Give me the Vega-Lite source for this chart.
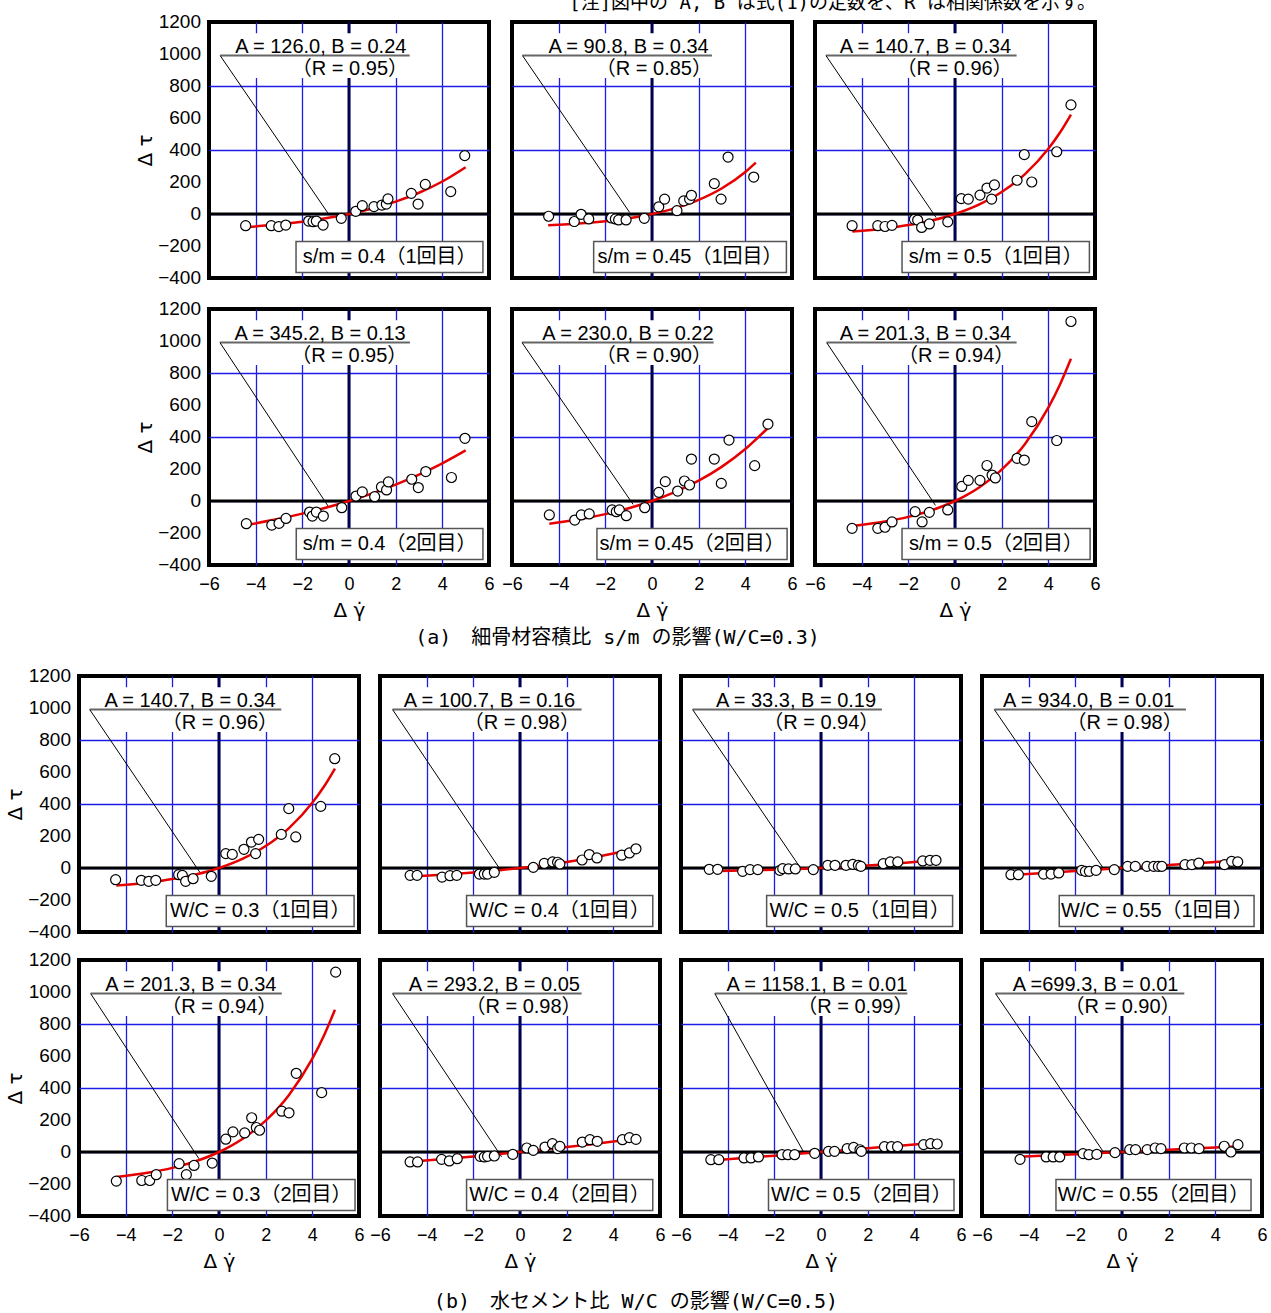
{
"$schema": "https://vega.github.io/schema/vega-lite/v6.json",
"padding": {"left": 5, "top": -7, "right": 0, "bottom": 0},
"title": {"text": "[注]図中の A, B は式(1)の定数を、R は相関係数を示す。", "anchor": "end", "dx": -172, "offset": -2, "fontSize": 19, "font": "DejaVu Sans Mono, Noto Sans CJK JP"},
"spacing": 16,
"center": false,
"datasets": {
"secA": [
{"p":"a1","k":"yl","y":1200,"t":"1200"},{"p":"a1","k":"yl","y":1000,"t":"1000"},{"p":"a1","k":"yl","y":800,"t":"800"},{"p":"a1","k":"yl","y":600,"t":"600"},{"p":"a1","k":"yl","y":400,"t":"400"},{"p":"a1","k":"yl","y":200,"t":"200"},{"p":"a1","k":"yl","y":0,"t":"0"},{"p":"a1","k":"yl","y":-200,"t":"−200"},{"p":"a1","k":"yl","y":-400,"t":"−400"},
{"p":"a4","k":"yl","y":1200,"t":"1200"},{"p":"a4","k":"yl","y":1000,"t":"1000"},{"p":"a4","k":"yl","y":800,"t":"800"},{"p":"a4","k":"yl","y":600,"t":"600"},{"p":"a4","k":"yl","y":400,"t":"400"},{"p":"a4","k":"yl","y":200,"t":"200"},{"p":"a4","k":"yl","y":0,"t":"0"},{"p":"a4","k":"yl","y":-200,"t":"−200"},{"p":"a4","k":"yl","y":-400,"t":"−400"},
{"p":"a1","k":"n","t1":"A = 126.0, B = 0.24","t2":"（R = 0.95）","lab":"s/m = 0.4（1回目）","bx1":-5.52,"bx2":3.15,"ux2":2.6,"tx":2.46,"rx":2.53,"ex":-0.9,"ey":5,"lb1":-2.27,"lb2":5.74,"lc":1.74,"by1":850,"by2":1130,"ly":990,"gy1":-172,"gy2":-365},
{"p":"a2","k":"n","t1":"A = 90.8, B = 0.34","t2":"（R = 0.85）","lab":"s/m = 0.45（1回目）","bx1":-5.55,"bx2":3.15,"ux2":2.57,"tx":2.43,"rx":2.57,"ex":-0.96,"ey":10,"lb1":-2.5,"lb2":5.76,"lc":1.63,"by1":850,"by2":1130,"ly":990,"gy1":-172,"gy2":-365},
{"p":"a3","k":"n","t1":"A = 140.7, B = 0.34","t2":"（R = 0.96）","lab":"s/m = 0.5（1回目）","bx1":-5.53,"bx2":3.15,"ux2":2.64,"tx":2.4,"rx":2.47,"ex":-0.81,"ey":-22,"lb1":-2.27,"lb2":5.76,"lc":1.75,"by1":850,"by2":1130,"ly":990,"gy1":-172,"gy2":-365},
{"p":"a4","k":"n","t1":"A = 345.2, B = 0.13","t2":"（R = 0.95）","lab":"s/m = 0.4（2回目）","bx1":-5.53,"bx2":3.15,"ux2":2.61,"tx":2.43,"rx":2.5,"ex":-0.9,"ey":-31,"lb1":-2.26,"lb2":5.74,"lc":1.74,"by1":850,"by2":1130,"ly":990,"gy1":-172,"gy2":-365},
{"p":"a5","k":"n","t1":"A = 230.0, B = 0.22","t2":"（R = 0.90）","lab":"s/m = 0.45（2回目）","bx1":-5.57,"bx2":3.2,"ux2":2.64,"tx":2.64,"rx":2.57,"ex":-0.81,"ey":-21,"lb1":-2.36,"lb2":5.79,"lc":1.72,"by1":850,"by2":1130,"ly":990,"gy1":-172,"gy2":-365},
{"p":"a6","k":"n","t1":"A = 201.3, B = 0.34","t2":"（R = 0.94）","lab":"s/m = 0.5（2回目）","bx1":-5.5,"bx2":3.15,"ux2":2.64,"tx":2.4,"rx":2.54,"ex":-0.84,"ey":-27,"lb1":-2.27,"lb2":5.79,"lc":1.76,"by1":850,"by2":1130,"ly":990,"gy1":-172,"gy2":-365},
{"p":"a1","k":"f","x":-4.3,"y":-81},{"p":"a1","k":"f","x":-3,"y":-64.7},{"p":"a1","k":"f","x":-2,"y":-48},{"p":"a1","k":"f","x":-1,"y":-26.9},{"p":"a1","k":"f","x":0,"y":0},{"p":"a1","k":"f","x":1,"y":34.2},{"p":"a1","k":"f","x":2,"y":77.6},{"p":"a1","k":"f","x":3,"y":132.9},{"p":"a1","k":"f","x":4,"y":203.1},{"p":"a1","k":"f","x":5,"y":292.3},
{"p":"a2","k":"f","x":-4.45,"y":-70.8},{"p":"a2","k":"f","x":-3,"y":-58.1},{"p":"a2","k":"f","x":-2,"y":-44.8},{"p":"a2","k":"f","x":-1,"y":-26.2},{"p":"a2","k":"f","x":0,"y":0},{"p":"a2","k":"f","x":1,"y":36.8},{"p":"a2","k":"f","x":2,"y":88.4},{"p":"a2","k":"f","x":3,"y":161},{"p":"a2","k":"f","x":4,"y":263},{"p":"a2","k":"f","x":4.45,"y":321.4},
{"p":"a3","k":"f","x":-4.4,"y":-109.2},{"p":"a3","k":"f","x":-3,"y":-90},{"p":"a3","k":"f","x":-2,"y":-69.4},{"p":"a3","k":"f","x":-1,"y":-40.5},{"p":"a3","k":"f","x":0,"y":0},{"p":"a3","k":"f","x":1,"y":57},{"p":"a3","k":"f","x":2,"y":137},{"p":"a3","k":"f","x":3,"y":249.5},{"p":"a3","k":"f","x":4,"y":407.5},{"p":"a3","k":"f","x":4.5,"y":509.1},{"p":"a3","k":"f","x":4.97,"y":621.6},
{"p":"a4","k":"f","x":-4.3,"y":-147.8},{"p":"a4","k":"f","x":-3,"y":-111.5},{"p":"a4","k":"f","x":-2,"y":-79},{"p":"a4","k":"f","x":-1,"y":-42.1},{"p":"a4","k":"f","x":0,"y":0},{"p":"a4","k":"f","x":1,"y":47.9},{"p":"a4","k":"f","x":2,"y":102.5},{"p":"a4","k":"f","x":3,"y":164.7},{"p":"a4","k":"f","x":4,"y":235.4},{"p":"a4","k":"f","x":5,"y":316},
{"p":"a5","k":"f","x":-4.4,"y":-142.6},{"p":"a5","k":"f","x":-3,"y":-111.1},{"p":"a5","k":"f","x":-2,"y":-81.9},{"p":"a5","k":"f","x":-1,"y":-45.4},{"p":"a5","k":"f","x":0,"y":0},{"p":"a5","k":"f","x":1,"y":56.6},{"p":"a5","k":"f","x":2,"y":127.1},{"p":"a5","k":"f","x":3,"y":215},{"p":"a5","k":"f","x":4,"y":324.5},{"p":"a5","k":"f","x":4.97,"y":456.4},
{"p":"a6","k":"f","x":-4.4,"y":-156.2},{"p":"a6","k":"f","x":-3,"y":-128.7},{"p":"a6","k":"f","x":-2,"y":-99.3},{"p":"a6","k":"f","x":-1,"y":-58},{"p":"a6","k":"f","x":0,"y":0},{"p":"a6","k":"f","x":1,"y":81.5},{"p":"a6","k":"f","x":2,"y":196},{"p":"a6","k":"f","x":3,"y":356.9},{"p":"a6","k":"f","x":4,"y":583},{"p":"a6","k":"f","x":4.5,"y":728.3},{"p":"a6","k":"f","x":4.97,"y":889.3},
{"p":"a1","k":"p","x":-4.43,"y":-73},{"p":"a1","k":"p","x":-3.33,"y":-73},{"p":"a1","k":"p","x":-3.01,"y":-79},{"p":"a1","k":"p","x":-2.71,"y":-69},{"p":"a1","k":"p","x":-1.73,"y":-44},{"p":"a1","k":"p","x":-1.54,"y":-48},{"p":"a1","k":"p","x":-1.4,"y":-44},{"p":"a1","k":"p","x":-1.11,"y":-69},{"p":"a1","k":"p","x":-0.33,"y":-27},{"p":"a1","k":"p","x":0.29,"y":17},{"p":"a1","k":"p","x":0.57,"y":52},{"p":"a1","k":"p","x":1.07,"y":46},{"p":"a1","k":"p","x":1.41,"y":56},{"p":"a1","k":"p","x":1.6,"y":62},{"p":"a1","k":"p","x":1.67,"y":94},{"p":"a1","k":"p","x":2.67,"y":129},{"p":"a1","k":"p","x":2.96,"y":62},{"p":"a1","k":"p","x":3.27,"y":185},{"p":"a1","k":"p","x":4.36,"y":140},{"p":"a1","k":"p","x":4.96,"y":365},
{"p":"a2","k":"p","x":-4.43,"y":-14},{"p":"a2","k":"p","x":-3.33,"y":-47},{"p":"a2","k":"p","x":-3.04,"y":-2},{"p":"a2","k":"p","x":-2.71,"y":-31},{"p":"a2","k":"p","x":-1.74,"y":-25},{"p":"a2","k":"p","x":-1.57,"y":-31},{"p":"a2","k":"p","x":-1.43,"y":-37},{"p":"a2","k":"p","x":-1.11,"y":-37},{"p":"a2","k":"p","x":-0.33,"y":-27},{"p":"a2","k":"p","x":0.29,"y":45},{"p":"a2","k":"p","x":0.54,"y":93},{"p":"a2","k":"p","x":1.07,"y":21},{"p":"a2","k":"p","x":1.36,"y":82},{"p":"a2","k":"p","x":1.61,"y":93},{"p":"a2","k":"p","x":1.69,"y":117},{"p":"a2","k":"p","x":2.67,"y":190},{"p":"a2","k":"p","x":2.96,"y":93},{"p":"a2","k":"p","x":3.26,"y":356},{"p":"a2","k":"p","x":4.36,"y":231},
{"p":"a3","k":"p","x":-4.41,"y":-73},{"p":"a3","k":"p","x":-3.31,"y":-73},{"p":"a3","k":"p","x":-3.0,"y":-78},{"p":"a3","k":"p","x":-2.7,"y":-71},{"p":"a3","k":"p","x":-1.74,"y":-33},{"p":"a3","k":"p","x":-1.6,"y":-38},{"p":"a3","k":"p","x":-1.43,"y":-84},{"p":"a3","k":"p","x":-1.1,"y":-62},{"p":"a3","k":"p","x":-0.31,"y":-49},{"p":"a3","k":"p","x":0.27,"y":96},{"p":"a3","k":"p","x":0.57,"y":93},{"p":"a3","k":"p","x":1.07,"y":118},{"p":"a3","k":"p","x":1.37,"y":162},{"p":"a3","k":"p","x":1.57,"y":93},{"p":"a3","k":"p","x":1.69,"y":182},{"p":"a3","k":"p","x":2.66,"y":211},{"p":"a3","k":"p","x":2.97,"y":371},{"p":"a3","k":"p","x":3.29,"y":200},{"p":"a3","k":"p","x":4.36,"y":389},{"p":"a3","k":"p","x":4.97,"y":682},
{"p":"a4","k":"p","x":-4.4,"y":-142},{"p":"a4","k":"p","x":-3.31,"y":-151},{"p":"a4","k":"p","x":-3.0,"y":-140},{"p":"a4","k":"p","x":-2.7,"y":-109},{"p":"a4","k":"p","x":-1.69,"y":-69},{"p":"a4","k":"p","x":-1.57,"y":-94},{"p":"a4","k":"p","x":-1.4,"y":-69},{"p":"a4","k":"p","x":-1.1,"y":-94},{"p":"a4","k":"p","x":-0.31,"y":-42},{"p":"a4","k":"p","x":0.3,"y":31},{"p":"a4","k":"p","x":0.57,"y":57},{"p":"a4","k":"p","x":1.1,"y":27},{"p":"a4","k":"p","x":1.39,"y":88},{"p":"a4","k":"p","x":1.61,"y":69},{"p":"a4","k":"p","x":1.69,"y":119},{"p":"a4","k":"p","x":2.69,"y":136},{"p":"a4","k":"p","x":2.97,"y":84},{"p":"a4","k":"p","x":3.29,"y":184},{"p":"a4","k":"p","x":4.39,"y":147},{"p":"a4","k":"p","x":4.97,"y":392},
{"p":"a5","k":"p","x":-4.4,"y":-87},{"p":"a5","k":"p","x":-3.31,"y":-119},{"p":"a5","k":"p","x":-3.03,"y":-87},{"p":"a5","k":"p","x":-2.69,"y":-81},{"p":"a5","k":"p","x":-1.71,"y":-56},{"p":"a5","k":"p","x":-1.53,"y":-67},{"p":"a5","k":"p","x":-1.4,"y":-56},{"p":"a5","k":"p","x":-1.1,"y":-92},{"p":"a5","k":"p","x":-0.31,"y":-42},{"p":"a5","k":"p","x":0.29,"y":54},{"p":"a5","k":"p","x":0.57,"y":121},{"p":"a5","k":"p","x":1.1,"y":62},{"p":"a5","k":"p","x":1.39,"y":125},{"p":"a5","k":"p","x":1.61,"y":100},{"p":"a5","k":"p","x":1.69,"y":262},{"p":"a5","k":"p","x":2.67,"y":262},{"p":"a5","k":"p","x":2.97,"y":110},{"p":"a5","k":"p","x":3.3,"y":381},{"p":"a5","k":"p","x":4.4,"y":221},{"p":"a5","k":"p","x":4.97,"y":481},
{"p":"a6","k":"p","x":-4.41,"y":-171},{"p":"a6","k":"p","x":-3.31,"y":-171},{"p":"a6","k":"p","x":-3.0,"y":-164},{"p":"a6","k":"p","x":-2.7,"y":-131},{"p":"a6","k":"p","x":-1.71,"y":-67},{"p":"a6","k":"p","x":-1.41,"y":-131},{"p":"a6","k":"p","x":-1.1,"y":-71},{"p":"a6","k":"p","x":-0.31,"y":-56},{"p":"a6","k":"p","x":0.29,"y":91},{"p":"a6","k":"p","x":0.57,"y":129},{"p":"a6","k":"p","x":1.07,"y":129},{"p":"a6","k":"p","x":1.37,"y":222},{"p":"a6","k":"p","x":1.59,"y":162},{"p":"a6","k":"p","x":1.73,"y":144},{"p":"a6","k":"p","x":2.66,"y":267},{"p":"a6","k":"p","x":2.97,"y":256},{"p":"a6","k":"p","x":3.29,"y":496},{"p":"a6","k":"p","x":4.36,"y":378},{"p":"a6","k":"p","x":4.97,"y":1122}
],
"secB": [
{"p":"b1","k":"yl","y":1200,"t":"1200"},{"p":"b1","k":"yl","y":1000,"t":"1000"},{"p":"b1","k":"yl","y":800,"t":"800"},{"p":"b1","k":"yl","y":600,"t":"600"},{"p":"b1","k":"yl","y":400,"t":"400"},{"p":"b1","k":"yl","y":200,"t":"200"},{"p":"b1","k":"yl","y":0,"t":"0"},{"p":"b1","k":"yl","y":-200,"t":"−200"},{"p":"b1","k":"yl","y":-400,"t":"−400"},
{"p":"b5","k":"yl","y":1200,"t":"1200"},{"p":"b5","k":"yl","y":1000,"t":"1000"},{"p":"b5","k":"yl","y":800,"t":"800"},{"p":"b5","k":"yl","y":600,"t":"600"},{"p":"b5","k":"yl","y":400,"t":"400"},{"p":"b5","k":"yl","y":200,"t":"200"},{"p":"b5","k":"yl","y":0,"t":"0"},{"p":"b5","k":"yl","y":-200,"t":"−200"},{"p":"b5","k":"yl","y":-400,"t":"−400"},
{"p":"b1","k":"n","t1":"A = 140.7, B = 0.34","t2":"（R = 0.96）","lab":"W/C = 0.3（1回目）","bx1":-5.54,"bx2":3.15,"ux2":2.67,"tx":2.43,"rx":2.53,"ex":-0.83,"ey":-25,"lb1":-2.26,"lb2":5.79,"lc":1.77,"by1":850,"by2":1130,"ly":990,"gy1":-172,"gy2":-365},
{"p":"b2","k":"n","t1":"A = 100.7, B = 0.16","t2":"（R = 0.98）","lab":"W/C = 0.4（1回目）","bx1":-5.46,"bx2":3.16,"ux2":2.64,"tx":2.36,"rx":2.57,"ex":-0.8,"ey":-20,"lb1":-2.29,"lb2":5.69,"lc":1.7,"by1":850,"by2":1130,"ly":990,"gy1":-172,"gy2":-365},
{"p":"b3","k":"n","t1":"A = 33.3, B = 0.19","t2":"（R = 0.94）","lab":"W/C = 0.5（1回目）","bx1":-5.5,"bx2":3.15,"ux2":2.61,"tx":2.36,"rx":2.5,"ex":-0.86,"ey":-4,"lb1":-2.33,"lb2":5.64,"lc":1.66,"by1":850,"by2":1130,"ly":990,"gy1":-172,"gy2":-365},
{"p":"b4","k":"n","t1":"A = 934.0, B = 0.01","t2":"（R = 0.98）","lab":"W/C = 0.55（1回目）","bx1":-5.47,"bx2":3.15,"ux2":2.74,"tx":2.24,"rx":2.6,"ex":-0.79,"ey":-4,"lb1":-2.69,"lb2":5.66,"lc":1.49,"by1":850,"by2":1130,"ly":990,"gy1":-172,"gy2":-365},
{"p":"b5","k":"n","t1":"A = 201.3, B = 0.34","t2":"（R = 0.94）","lab":"W/C = 0.3（2回目）","bx1":-5.5,"bx2":3.15,"ux2":2.69,"tx":2.46,"rx":2.5,"ex":-0.86,"ey":-42,"lb1":-2.21,"lb2":5.83,"lc":1.81,"by1":850,"by2":1130,"ly":990,"gy1":-172,"gy2":-365},
{"p":"b6","k":"n","t1":"A = 293.2, B = 0.05","t2":"（R = 0.98）","lab":"W/C = 0.4（2回目）","bx1":-5.46,"bx2":3.2,"ux2":2.64,"tx":2.57,"rx":2.64,"ex":-0.79,"ey":-30,"lb1":-2.29,"lb2":5.69,"lc":1.7,"by1":850,"by2":1130,"ly":990,"gy1":-172,"gy2":-365},
{"p":"b7","k":"n","t1":"A = 1158.1, B = 0.01","t2":"（R = 0.99）","lab":"W/C = 0.5（2回目）","bx1":-4.55,"bx2":4.6,"ux2":3.7,"tx":3.7,"rx":3.96,"ex":-0.72,"ey":-6,"lb1":-2.25,"lb2":5.7,"lc":1.73,"by1":850,"by2":1130,"ly":990,"gy1":-172,"gy2":-365},
{"p":"b8","k":"n","t1":"A =699.3, B = 0.01","t2":"（R = 0.90）","lab":"W/C = 0.55（2回目）","bx1":-5.42,"bx2":3.17,"ux2":2.67,"tx":2.42,"rx":2.51,"ex":-0.83,"ey":8,"lb1":-2.83,"lb2":5.53,"lc":1.35,"by1":850,"by2":1130,"ly":990,"gy1":-172,"gy2":-365},
{"p":"b1","k":"f","x":-4.4,"y":-109.2},{"p":"b1","k":"f","x":-3,"y":-90},{"p":"b1","k":"f","x":-2,"y":-69.4},{"p":"b1","k":"f","x":-1,"y":-40.5},{"p":"b1","k":"f","x":0,"y":0},{"p":"b1","k":"f","x":1,"y":57},{"p":"b1","k":"f","x":2,"y":137},{"p":"b1","k":"f","x":3,"y":249.5},{"p":"b1","k":"f","x":4,"y":407.5},{"p":"b1","k":"f","x":4.5,"y":509.1},{"p":"b1","k":"f","x":4.97,"y":621.6},
{"p":"b2","k":"f","x":-4.6,"y":-52.5},{"p":"b2","k":"f","x":-3,"y":-38.4},{"p":"b2","k":"f","x":-2,"y":-27.6},{"p":"b2","k":"f","x":-1,"y":-14.9},{"p":"b2","k":"f","x":0,"y":0},{"p":"b2","k":"f","x":1,"y":17.5},{"p":"b2","k":"f","x":2,"y":38},{"p":"b2","k":"f","x":3,"y":62},{"p":"b2","k":"f","x":4,"y":90.3},{"p":"b2","k":"f","x":5,"y":123.4},
{"p":"b3","k":"f","x":-4.8,"y":-19.9},{"p":"b3","k":"f","x":-3,"y":-14.5},{"p":"b3","k":"f","x":-2,"y":-10.5},{"p":"b3","k":"f","x":-1,"y":-5.8},{"p":"b3","k":"f","x":0,"y":0},{"p":"b3","k":"f","x":1,"y":7},{"p":"b3","k":"f","x":2,"y":15.4},{"p":"b3","k":"f","x":3,"y":25.6},{"p":"b3","k":"f","x":4,"y":37.9},{"p":"b3","k":"f","x":4.9,"y":51.2},
{"p":"b4","k":"f","x":-4.8,"y":-43.8},{"p":"b4","k":"f","x":-3,"y":-27.6},{"p":"b4","k":"f","x":-2,"y":-18.5},{"p":"b4","k":"f","x":-1,"y":-9.3},{"p":"b4","k":"f","x":0,"y":0},{"p":"b4","k":"f","x":1,"y":9.4},{"p":"b4","k":"f","x":2,"y":18.9},{"p":"b4","k":"f","x":3,"y":28.4},{"p":"b4","k":"f","x":4,"y":38.1},{"p":"b4","k":"f","x":5,"y":47.9},
{"p":"b5","k":"f","x":-4.4,"y":-156.2},{"p":"b5","k":"f","x":-3,"y":-128.7},{"p":"b5","k":"f","x":-2,"y":-99.3},{"p":"b5","k":"f","x":-1,"y":-58},{"p":"b5","k":"f","x":0,"y":0},{"p":"b5","k":"f","x":1,"y":81.5},{"p":"b5","k":"f","x":2,"y":196},{"p":"b5","k":"f","x":3,"y":356.9},{"p":"b5","k":"f","x":4,"y":583},{"p":"b5","k":"f","x":4.5,"y":728.3},{"p":"b5","k":"f","x":4.97,"y":889.3},
{"p":"b6","k":"f","x":-4.7,"y":-61.4},{"p":"b6","k":"f","x":-3,"y":-40.8},{"p":"b6","k":"f","x":-2,"y":-27.9},{"p":"b6","k":"f","x":-1,"y":-14.3},{"p":"b6","k":"f","x":0,"y":0},{"p":"b6","k":"f","x":1,"y":15},{"p":"b6","k":"f","x":2,"y":30.8},{"p":"b6","k":"f","x":3,"y":47.4},{"p":"b6","k":"f","x":4,"y":64.9},{"p":"b6","k":"f","x":5,"y":83.3},
{"p":"b7","k":"f","x":-4.7,"y":-53.2},{"p":"b7","k":"f","x":-3,"y":-34.2},{"p":"b7","k":"f","x":-2,"y":-22.9},{"p":"b7","k":"f","x":-1,"y":-11.5},{"p":"b7","k":"f","x":0,"y":0},{"p":"b7","k":"f","x":1,"y":11.6},{"p":"b7","k":"f","x":2,"y":23.4},{"p":"b7","k":"f","x":3,"y":35.3},{"p":"b7","k":"f","x":4,"y":47.3},{"p":"b7","k":"f","x":5,"y":59.4},
{"p":"b8","k":"f","x":-4.4,"y":-30.1},{"p":"b8","k":"f","x":-3,"y":-20.7},{"p":"b8","k":"f","x":-2,"y":-13.8},{"p":"b8","k":"f","x":-1,"y":-7},{"p":"b8","k":"f","x":0,"y":0},{"p":"b8","k":"f","x":1,"y":7},{"p":"b8","k":"f","x":2,"y":14.1},{"p":"b8","k":"f","x":3,"y":21.3},{"p":"b8","k":"f","x":4,"y":28.5},{"p":"b8","k":"f","x":5,"y":35.9},
{"p":"b1","k":"p","x":-4.43,"y":-73},{"p":"b1","k":"p","x":-3.33,"y":-77},{"p":"b1","k":"p","x":-3.01,"y":-83},{"p":"b1","k":"p","x":-2.71,"y":-77},{"p":"b1","k":"p","x":-1.73,"y":-42},{"p":"b1","k":"p","x":-1.57,"y":-46},{"p":"b1","k":"p","x":-1.43,"y":-83},{"p":"b1","k":"p","x":-1.11,"y":-67},{"p":"b1","k":"p","x":-0.33,"y":-52},{"p":"b1","k":"p","x":0.29,"y":90},{"p":"b1","k":"p","x":0.57,"y":85},{"p":"b1","k":"p","x":1.07,"y":117},{"p":"b1","k":"p","x":1.39,"y":162},{"p":"b1","k":"p","x":1.57,"y":90},{"p":"b1","k":"p","x":1.7,"y":179},{"p":"b1","k":"p","x":2.67,"y":210},{"p":"b1","k":"p","x":2.99,"y":371},{"p":"b1","k":"p","x":3.29,"y":194},{"p":"b1","k":"p","x":4.36,"y":385},{"p":"b1","k":"p","x":4.96,"y":683},
{"p":"b2","k":"p","x":-4.71,"y":-46},{"p":"b2","k":"p","x":-4.41,"y":-46},{"p":"b2","k":"p","x":-3.34,"y":-57},{"p":"b2","k":"p","x":-3.0,"y":-48},{"p":"b2","k":"p","x":-2.71,"y":-46},{"p":"b2","k":"p","x":-1.74,"y":-38},{"p":"b2","k":"p","x":-1.53,"y":-38},{"p":"b2","k":"p","x":-1.39,"y":-38},{"p":"b2","k":"p","x":-1.1,"y":-27},{"p":"b2","k":"p","x":0.57,"y":4},{"p":"b2","k":"p","x":1.04,"y":29},{"p":"b2","k":"p","x":1.4,"y":38},{"p":"b2","k":"p","x":1.61,"y":36},{"p":"b2","k":"p","x":1.71,"y":25},{"p":"b2","k":"p","x":2.66,"y":50},{"p":"b2","k":"p","x":2.97,"y":84},{"p":"b2","k":"p","x":3.3,"y":63},{"p":"b2","k":"p","x":4.36,"y":80},{"p":"b2","k":"p","x":4.69,"y":94},{"p":"b2","k":"p","x":4.97,"y":120},
{"p":"b3","k":"p","x":-4.79,"y":-8},{"p":"b3","k":"p","x":-4.43,"y":-8},{"p":"b3","k":"p","x":-3.36,"y":-21},{"p":"b3","k":"p","x":-3.04,"y":-10},{"p":"b3","k":"p","x":-2.71,"y":-10},{"p":"b3","k":"p","x":-1.76,"y":-15},{"p":"b3","k":"p","x":-1.64,"y":-4},{"p":"b3","k":"p","x":-1.39,"y":-6},{"p":"b3","k":"p","x":-1.1,"y":-6},{"p":"b3","k":"p","x":-0.33,"y":-10},{"p":"b3","k":"p","x":0.29,"y":17},{"p":"b3","k":"p","x":0.6,"y":17},{"p":"b3","k":"p","x":1.07,"y":17},{"p":"b3","k":"p","x":1.36,"y":23},{"p":"b3","k":"p","x":1.6,"y":17},{"p":"b3","k":"p","x":1.71,"y":10},{"p":"b3","k":"p","x":2.67,"y":27},{"p":"b3","k":"p","x":2.97,"y":38},{"p":"b3","k":"p","x":3.29,"y":38},{"p":"b3","k":"p","x":4.36,"y":44},{"p":"b3","k":"p","x":4.67,"y":48},{"p":"b3","k":"p","x":4.93,"y":48},
{"p":"b4","k":"p","x":-4.76,"y":-42},{"p":"b4","k":"p","x":-4.44,"y":-42},{"p":"b4","k":"p","x":-3.36,"y":-38},{"p":"b4","k":"p","x":-3.04,"y":-38},{"p":"b4","k":"p","x":-2.71,"y":-31},{"p":"b4","k":"p","x":-1.73,"y":-15},{"p":"b4","k":"p","x":-1.57,"y":-21},{"p":"b4","k":"p","x":-1.4,"y":-21},{"p":"b4","k":"p","x":-1.11,"y":-15},{"p":"b4","k":"p","x":-0.33,"y":-10},{"p":"b4","k":"p","x":0.24,"y":10},{"p":"b4","k":"p","x":0.57,"y":10},{"p":"b4","k":"p","x":1.07,"y":10},{"p":"b4","k":"p","x":1.36,"y":10},{"p":"b4","k":"p","x":1.56,"y":10},{"p":"b4","k":"p","x":1.71,"y":10},{"p":"b4","k":"p","x":2.7,"y":21},{"p":"b4","k":"p","x":2.99,"y":21},{"p":"b4","k":"p","x":3.29,"y":31},{"p":"b4","k":"p","x":4.39,"y":21},{"p":"b4","k":"p","x":4.7,"y":42},{"p":"b4","k":"p","x":4.96,"y":38},
{"p":"b5","k":"p","x":-4.4,"y":-182},{"p":"b5","k":"p","x":-3.31,"y":-178},{"p":"b5","k":"p","x":-2.97,"y":-178},{"p":"b5","k":"p","x":-2.69,"y":-142},{"p":"b5","k":"p","x":-1.71,"y":-73},{"p":"b5","k":"p","x":-1.4,"y":-142},{"p":"b5","k":"p","x":-1.07,"y":-84},{"p":"b5","k":"p","x":-0.29,"y":-69},{"p":"b5","k":"p","x":0.29,"y":80},{"p":"b5","k":"p","x":0.6,"y":126},{"p":"b5","k":"p","x":1.1,"y":119},{"p":"b5","k":"p","x":1.4,"y":214},{"p":"b5","k":"p","x":1.6,"y":153},{"p":"b5","k":"p","x":1.74,"y":136},{"p":"b5","k":"p","x":2.69,"y":255},{"p":"b5","k":"p","x":3.0,"y":245},{"p":"b5","k":"p","x":3.31,"y":492},{"p":"b5","k":"p","x":4.4,"y":371},{"p":"b5","k":"p","x":5.0,"y":1124},
{"p":"b6","k":"p","x":-4.71,"y":-62},{"p":"b6","k":"p","x":-4.39,"y":-62},{"p":"b6","k":"p","x":-3.36,"y":-46},{"p":"b6","k":"p","x":-3.03,"y":-56},{"p":"b6","k":"p","x":-2.69,"y":-42},{"p":"b6","k":"p","x":-1.71,"y":-27},{"p":"b6","k":"p","x":-1.53,"y":-31},{"p":"b6","k":"p","x":-1.39,"y":-27},{"p":"b6","k":"p","x":-1.1,"y":-25},{"p":"b6","k":"p","x":-0.31,"y":-15},{"p":"b6","k":"p","x":0.29,"y":25},{"p":"b6","k":"p","x":0.57,"y":10},{"p":"b6","k":"p","x":1.07,"y":31},{"p":"b6","k":"p","x":1.39,"y":52},{"p":"b6","k":"p","x":1.61,"y":21},{"p":"b6","k":"p","x":1.71,"y":35},{"p":"b6","k":"p","x":2.67,"y":62},{"p":"b6","k":"p","x":3.0,"y":77},{"p":"b6","k":"p","x":3.31,"y":67},{"p":"b6","k":"p","x":4.39,"y":77},{"p":"b6","k":"p","x":4.69,"y":90},{"p":"b6","k":"p","x":4.97,"y":79},
{"p":"b7","k":"p","x":-4.72,"y":-48},{"p":"b7","k":"p","x":-4.38,"y":-48},{"p":"b7","k":"p","x":-3.3,"y":-37},{"p":"b7","k":"p","x":-3.0,"y":-37},{"p":"b7","k":"p","x":-2.68,"y":-31},{"p":"b7","k":"p","x":-1.67,"y":-17},{"p":"b7","k":"p","x":-1.42,"y":-17},{"p":"b7","k":"p","x":-1.13,"y":-17},{"p":"b7","k":"p","x":-0.27,"y":-8},{"p":"b7","k":"p","x":0.32,"y":4},{"p":"b7","k":"p","x":0.58,"y":4},{"p":"b7","k":"p","x":1.12,"y":21},{"p":"b7","k":"p","x":1.4,"y":29},{"p":"b7","k":"p","x":1.67,"y":14},{"p":"b7","k":"p","x":1.73,"y":4},{"p":"b7","k":"p","x":2.72,"y":33},{"p":"b7","k":"p","x":3.02,"y":33},{"p":"b7","k":"p","x":3.28,"y":33},{"p":"b7","k":"p","x":4.4,"y":46},{"p":"b7","k":"p","x":4.7,"y":52},{"p":"b7","k":"p","x":4.98,"y":50},
{"p":"b8","k":"p","x":-4.37,"y":-46},{"p":"b8","k":"p","x":-3.25,"y":-31},{"p":"b8","k":"p","x":-2.95,"y":-31},{"p":"b8","k":"p","x":-2.67,"y":-31},{"p":"b8","k":"p","x":-1.67,"y":-10},{"p":"b8","k":"p","x":-1.42,"y":-17},{"p":"b8","k":"p","x":-1.08,"y":-15},{"p":"b8","k":"p","x":-0.3,"y":-4},{"p":"b8","k":"p","x":0.33,"y":15},{"p":"b8","k":"p","x":0.58,"y":15},{"p":"b8","k":"p","x":1.08,"y":15},{"p":"b8","k":"p","x":1.42,"y":25},{"p":"b8","k":"p","x":1.67,"y":21},{"p":"b8","k":"p","x":2.67,"y":25},{"p":"b8","k":"p","x":2.97,"y":25},{"p":"b8","k":"p","x":3.3,"y":21},{"p":"b8","k":"p","x":4.38,"y":36},{"p":"b8","k":"p","x":4.67,"y":0},{"p":"b8","k":"p","x":4.97,"y":46}
]
},
"vconcat": [
{
"hconcat": [
{"width": 56, "height": 1, "data": {"values": [{"s": 0}]}, "mark": {"type": "rule", "opacity": 0}, "encoding": {"y": {"field": "s", "type": "quantitative", "axis": null}}, "view": {"stroke": null}},
{
"data": {"name": "secA"},
"facet": {"field": "p", "type": "nominal", "header": {"labels": false, "title": null, "labelFontSize": 0.01, "labelPadding": 0, "labelExpr": "''", "labelColor": "white"}},
"columns": 3,
"spacing": {"row": 31, "column": 23},
"bounds": "flush",
"title": {"text": "(a)　細骨材容積比 s/m の影響(W/C=0.3)", "orient": "bottom", "anchor": "middle", "offset": 8},
"spec": {"width": 280, "height": 256, "layer": [
{"transform":[{"filter":"datum.k=='n'"}],"mark":{"type":"rule","color":"#000050","strokeWidth":3},"encoding":{"x":{"datum":0,"type":"quantitative","scale":{"domain":[-6,6],"nice":false,"zero":false}}}},
{"transform":[{"filter":"datum.k=='n'"}],"mark":{"type":"rule","color":"#000000","strokeWidth":3},"encoding":{"y":{"datum":0,"type":"quantitative","scale":{"domain":[-400,1200],"nice":false,"zero":false}}}},
{"transform":[{"filter":"datum.k=='n'"}],"mark":{"type":"rect","fill":"white","strokeWidth":0},"encoding":{"x":{"field":"bx1","type":"quantitative","scale":{"domain":[-6,6],"nice":false,"zero":false}},"x2":{"field":"bx2"},"y":{"field":"by1","type":"quantitative","scale":{"domain":[-400,1200],"nice":false,"zero":false}},"y2":{"field":"by2"}}},
{"transform":[{"filter":"datum.k=='n'"}],"mark":{"type":"rule","color":"#666666","strokeWidth":2},"encoding":{"x":{"field":"bx1","type":"quantitative","scale":{"domain":[-6,6],"nice":false,"zero":false}},"x2":{"field":"ux2"},"y":{"field":"ly","type":"quantitative","scale":{"domain":[-400,1200],"nice":false,"zero":false}}}},
{"transform":[{"filter":"datum.k=='n'"}],"mark":{"type":"text","align":"right","baseline":"alphabetic","fontSize":20,"font":"Liberation Sans, Noto Sans CJK JP","color":"black","dy":-3},"encoding":{"x":{"field":"tx","type":"quantitative","scale":{"domain":[-6,6],"nice":false,"zero":false}},"y":{"field":"ly","type":"quantitative","scale":{"domain":[-400,1200],"nice":false,"zero":false}},"text":{"field":"t1"}}},
{"transform":[{"filter":"datum.k=='n'"}],"mark":{"type":"text","align":"right","baseline":"alphabetic","fontSize":20,"font":"Liberation Sans, Noto Sans CJK JP","color":"black","dy":19},"encoding":{"x":{"field":"rx","type":"quantitative","scale":{"domain":[-6,6],"nice":false,"zero":false}},"y":{"field":"ly","type":"quantitative","scale":{"domain":[-400,1200],"nice":false,"zero":false}},"text":{"field":"t2"}}},
{"transform":[{"filter":"datum.k=='n'"}],"mark":{"type":"rule","color":"black","strokeWidth":1},"encoding":{"x":{"field":"bx1","type":"quantitative","scale":{"domain":[-6,6],"nice":false,"zero":false}},"y":{"field":"ly","type":"quantitative","scale":{"domain":[-400,1200],"nice":false,"zero":false}},"x2":{"field":"ex"},"y2":{"field":"ey"}}},
{"transform":[{"filter":"datum.k=='f'"}],"mark":{"type":"line","color":"#e60000","strokeWidth":2.5,"interpolate":"monotone"},"encoding":{"x":{"field":"x","type":"quantitative","scale":{"domain":[-6,6],"nice":false,"zero":false}},"y":{"field":"y","type":"quantitative","scale":{"domain":[-400,1200],"nice":false,"zero":false}}}},
{"transform":[{"filter":"datum.k=='p'"}],"mark":{"type":"circle","fill":"white","stroke":"black","strokeWidth":1.2,"size":100,"opacity":1},"encoding":{"x":{"field":"x","type":"quantitative","scale":{"domain":[-6,6],"nice":false,"zero":false},"axis":{"values":[-6,-4,-2,0,2,4,6],"format":"d","title":"Δ γ̇","grid":true,"ticks":false,"domain":false,"labelFlush":false,"labelOverlap":false,"labelPadding":10,"titlePadding":7,"gridColor":{"condition":{"test":"datum.value === -6 || datum.value === 6","value":"transparent"},"value":"#1c1ce8"}}},"y":{"field":"y","type":"quantitative","scale":{"domain":[-400,1200],"nice":false,"zero":false},"axis":{"values":[-400,-200,0,200,400,600,800,1000,1200],"labels":false,"title":"Δ τ","grid":true,"ticks":false,"domain":false,"titlePadding":54,"gridColor":{"condition":{"test":"datum.value === -400 || datum.value === 1200","value":"transparent"},"value":"#1c1ce8"}}}}},
{"transform":[{"filter":"datum.k=='yl'"}],"mark":{"type":"text","align":"right","baseline":"middle","fontSize":19,"font":"Liberation Sans","color":"black","dx":-8},"encoding":{"x":{"datum":-6,"type":"quantitative","scale":{"domain":[-6,6],"nice":false,"zero":false}},"y":{"field":"y","type":"quantitative","scale":{"domain":[-400,1200],"nice":false,"zero":false}},"text":{"field":"t"}}},
{"transform":[{"filter":"datum.k=='n'"}],"mark":{"type":"rect","fill":"white","stroke":"#555555","strokeWidth":1.5},"encoding":{"x":{"field":"lb1","type":"quantitative","scale":{"domain":[-6,6],"nice":false,"zero":false}},"x2":{"field":"lb2"},"y":{"field":"gy1","type":"quantitative","scale":{"domain":[-400,1200],"nice":false,"zero":false}},"y2":{"field":"gy2"}}},
{"transform":[{"filter":"datum.k=='n'"}],"mark":{"type":"text","align":"center","baseline":"middle","fontSize":20,"font":"Liberation Sans, Noto Sans CJK JP","color":"black","dy":15},"encoding":{"x":{"field":"lc","type":"quantitative","scale":{"domain":[-6,6],"nice":false,"zero":false}},"y":{"field":"gy1","type":"quantitative","scale":{"domain":[-400,1200],"nice":false,"zero":false}},"text":{"field":"lab"}}}
]}
},
{"width": 167, "height": 1, "data": {"values": [{"s": 0}]}, "mark": {"type": "rule", "opacity": 0}, "encoding": {"y": {"field": "s", "type": "quantitative", "axis": null}}, "view": {"stroke": null}}
],
"spacing": 0
},
{
"data": {"name": "secB"},
"facet": {"field": "p", "type": "nominal", "header": {"labels": false, "title": null, "labelFontSize": 0.01, "labelPadding": 0, "labelExpr": "''", "labelColor": "white"}},
"columns": 4,
"spacing": {"row": 28, "column": 21},
"bounds": "flush",
"title": {"text": "(b)　水セメント比 W/C の影響(W/C=0.5)", "orient": "bottom", "anchor": "middle", "offset": 21},
"spec": {"width": 280, "height": 256, "layer": [
{"transform":[{"filter":"datum.k=='n'"}],"mark":{"type":"rule","color":"#000050","strokeWidth":3},"encoding":{"x":{"datum":0,"type":"quantitative","scale":{"domain":[-6,6],"nice":false,"zero":false}}}},
{"transform":[{"filter":"datum.k=='n'"}],"mark":{"type":"rule","color":"#000000","strokeWidth":3},"encoding":{"y":{"datum":0,"type":"quantitative","scale":{"domain":[-400,1200],"nice":false,"zero":false}}}},
{"transform":[{"filter":"datum.k=='n'"}],"mark":{"type":"rect","fill":"white","strokeWidth":0},"encoding":{"x":{"field":"bx1","type":"quantitative","scale":{"domain":[-6,6],"nice":false,"zero":false}},"x2":{"field":"bx2"},"y":{"field":"by1","type":"quantitative","scale":{"domain":[-400,1200],"nice":false,"zero":false}},"y2":{"field":"by2"}}},
{"transform":[{"filter":"datum.k=='n'"}],"mark":{"type":"rule","color":"#666666","strokeWidth":2},"encoding":{"x":{"field":"bx1","type":"quantitative","scale":{"domain":[-6,6],"nice":false,"zero":false}},"x2":{"field":"ux2"},"y":{"field":"ly","type":"quantitative","scale":{"domain":[-400,1200],"nice":false,"zero":false}}}},
{"transform":[{"filter":"datum.k=='n'"}],"mark":{"type":"text","align":"right","baseline":"alphabetic","fontSize":20,"font":"Liberation Sans, Noto Sans CJK JP","color":"black","dy":-3},"encoding":{"x":{"field":"tx","type":"quantitative","scale":{"domain":[-6,6],"nice":false,"zero":false}},"y":{"field":"ly","type":"quantitative","scale":{"domain":[-400,1200],"nice":false,"zero":false}},"text":{"field":"t1"}}},
{"transform":[{"filter":"datum.k=='n'"}],"mark":{"type":"text","align":"right","baseline":"alphabetic","fontSize":20,"font":"Liberation Sans, Noto Sans CJK JP","color":"black","dy":19},"encoding":{"x":{"field":"rx","type":"quantitative","scale":{"domain":[-6,6],"nice":false,"zero":false}},"y":{"field":"ly","type":"quantitative","scale":{"domain":[-400,1200],"nice":false,"zero":false}},"text":{"field":"t2"}}},
{"transform":[{"filter":"datum.k=='n'"}],"mark":{"type":"rule","color":"black","strokeWidth":1},"encoding":{"x":{"field":"bx1","type":"quantitative","scale":{"domain":[-6,6],"nice":false,"zero":false}},"y":{"field":"ly","type":"quantitative","scale":{"domain":[-400,1200],"nice":false,"zero":false}},"x2":{"field":"ex"},"y2":{"field":"ey"}}},
{"transform":[{"filter":"datum.k=='f'"}],"mark":{"type":"line","color":"#e60000","strokeWidth":2.5,"interpolate":"monotone"},"encoding":{"x":{"field":"x","type":"quantitative","scale":{"domain":[-6,6],"nice":false,"zero":false}},"y":{"field":"y","type":"quantitative","scale":{"domain":[-400,1200],"nice":false,"zero":false}}}},
{"transform":[{"filter":"datum.k=='p'"}],"mark":{"type":"circle","fill":"white","stroke":"black","strokeWidth":1.2,"size":100,"opacity":1},"encoding":{"x":{"field":"x","type":"quantitative","scale":{"domain":[-6,6],"nice":false,"zero":false},"axis":{"values":[-6,-4,-2,0,2,4,6],"format":"d","title":"Δ γ̇","grid":true,"ticks":false,"domain":false,"labelFlush":false,"labelOverlap":false,"labelPadding":10,"titlePadding":7,"gridColor":{"condition":{"test":"datum.value === -6 || datum.value === 6","value":"transparent"},"value":"#1c1ce8"}}},"y":{"field":"y","type":"quantitative","scale":{"domain":[-400,1200],"nice":false,"zero":false},"axis":{"values":[-400,-200,0,200,400,600,800,1000,1200],"labels":false,"title":"Δ τ","grid":true,"ticks":false,"domain":false,"titlePadding":54,"gridColor":{"condition":{"test":"datum.value === -400 || datum.value === 1200","value":"transparent"},"value":"#1c1ce8"}}}}},
{"transform":[{"filter":"datum.k=='yl'"}],"mark":{"type":"text","align":"right","baseline":"middle","fontSize":19,"font":"Liberation Sans","color":"black","dx":-8},"encoding":{"x":{"datum":-6,"type":"quantitative","scale":{"domain":[-6,6],"nice":false,"zero":false}},"y":{"field":"y","type":"quantitative","scale":{"domain":[-400,1200],"nice":false,"zero":false}},"text":{"field":"t"}}},
{"transform":[{"filter":"datum.k=='n'"}],"mark":{"type":"rect","fill":"white","stroke":"#555555","strokeWidth":1.5},"encoding":{"x":{"field":"lb1","type":"quantitative","scale":{"domain":[-6,6],"nice":false,"zero":false}},"x2":{"field":"lb2"},"y":{"field":"gy1","type":"quantitative","scale":{"domain":[-400,1200],"nice":false,"zero":false}},"y2":{"field":"gy2"}}},
{"transform":[{"filter":"datum.k=='n'"}],"mark":{"type":"text","align":"center","baseline":"middle","fontSize":20,"font":"Liberation Sans, Noto Sans CJK JP","color":"black","dy":15},"encoding":{"x":{"field":"lc","type":"quantitative","scale":{"domain":[-6,6],"nice":false,"zero":false}},"y":{"field":"gy1","type":"quantitative","scale":{"domain":[-400,1200],"nice":false,"zero":false}},"text":{"field":"lab"}}}
]}
}
],
"config": {
"view": {"stroke": "black", "strokeWidth": 4},
"header": {"labels": false, "labelFontSize": 0.01, "labelPadding": 0, "labelExpr": "''"},
"headerFacet": {"labels": false, "labelFontSize": 0.01, "labelPadding": 0, "labelExpr": "''"},
"axis": {"gridWidth": 1.3, "gridOpacity": 1, "tickSize": 0, "labelOverlap": false, "labelFont": "Liberation Sans", "labelColor": "black", "titleFont": "DejaVu Sans", "titleFontSize": 20, "titleFontWeight": "normal", "titleColor": "black"},
"axisX": {"labelFontSize": 18},
"axisY": {"labelFontSize": 19},
"title": {"font": "DejaVu Sans Mono, Noto Sans CJK JP", "fontSize": 20, "fontWeight": "normal", "color": "black"}
}
}
